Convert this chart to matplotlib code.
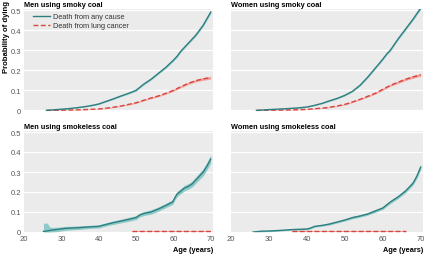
import matplotlib
matplotlib.use("Agg")
import matplotlib.pyplot as plt
import numpy as np

plt.rcParams['font.family'] = ['Liberation Sans', 'DejaVu Sans']

# ---- data ----
titles = ["Men using smoky coal", "Women using smoky coal",
          "Men using smokeless coal", "Women using smokeless coal"]
series_labels = ["Death from any cause", "Death from lung cancer"]
y_ticks = [0, 0.1, 0.2, 0.3, 0.4, 0.5]
y_ticklabels = ["0", "0.1", "0.2", "0.3", "0.4", "0.5"]
x_ticks = [20, 30, 40, 50, 60, 70]

# Men, smoky coal
ms_any_age = [26, 28, 30, 32, 34, 36, 38, 40, 42, 44, 46, 48, 50, 52, 54, 56, 58, 60, 61, 62, 64, 66, 67, 68, 70]
ms_any_val = [0, 0.003, 0.006, 0.009, 0.013, 0.018, 0.024, 0.032, 0.045, 0.058, 0.072, 0.085, 0.1, 0.13, 0.155, 0.185, 0.215, 0.25, 0.27, 0.295, 0.335, 0.375, 0.4, 0.425, 0.49]
ms_any_ci = [0.001, 0.001, 0.001, 0.002, 0.002, 0.002, 0.002, 0.003, 0.003, 0.003, 0.003, 0.003, 0.004, 0.004, 0.004, 0.004, 0.005, 0.005, 0.005, 0.005, 0.005, 0.006, 0.006, 0.006, 0.007]
ms_lc_age = [26, 30, 35, 40, 42, 44, 46, 48, 50, 52, 54, 56, 58, 60, 62, 64, 66, 68, 70]
ms_lc_val = [0, 0.001, 0.003, 0.007, 0.011, 0.016, 0.022, 0.03, 0.038, 0.05, 0.062, 0.072, 0.085, 0.1, 0.118, 0.135, 0.148, 0.157, 0.163]
ms_lc_ci = [0.001, 0.001, 0.001, 0.001, 0.002, 0.002, 0.002, 0.003, 0.003, 0.003, 0.004, 0.004, 0.004, 0.005, 0.005, 0.006, 0.006, 0.007, 0.007]

# Women, smoky coal
ws_any_age = [26.7, 30, 35, 38, 40, 42, 44, 46, 48, 50, 52, 54, 56, 58, 60, 61, 62, 64, 66, 68, 70]
ws_any_val = [0, 0.004, 0.009, 0.013, 0.017, 0.025, 0.035, 0.048, 0.06, 0.075, 0.095, 0.125, 0.165, 0.21, 0.255, 0.28, 0.3, 0.355, 0.405, 0.455, 0.51]
ws_any_ci = [0.001, 0.001, 0.001, 0.002, 0.002, 0.002, 0.002, 0.003, 0.003, 0.003, 0.003, 0.004, 0.004, 0.004, 0.005, 0.005, 0.005, 0.005, 0.006, 0.006, 0.007]
ws_lc_age = [26.7, 35, 40, 45, 48, 50, 52, 54, 56, 58, 60, 62, 64, 66, 68, 70]
ws_lc_val = [0, 0.002, 0.005, 0.013, 0.022, 0.03, 0.042, 0.055, 0.07, 0.085, 0.105, 0.125, 0.14, 0.155, 0.167, 0.177]
ws_lc_ci = [0.001, 0.001, 0.001, 0.002, 0.002, 0.003, 0.003, 0.003, 0.004, 0.004, 0.005, 0.005, 0.006, 0.006, 0.007, 0.007]

# Men, smokeless coal
ml_any_age = [25.2, 26.2, 27, 29, 31, 33, 35, 37, 40, 42, 44, 46, 48, 50, 51, 52, 54, 56, 58, 59.8, 60.5, 61, 62, 63, 64, 65, 66, 67, 68, 69, 70]
ml_any_val = [0.003, 0.005, 0.008, 0.013, 0.018, 0.02, 0.022, 0.025, 0.028, 0.038, 0.047, 0.055, 0.063, 0.072, 0.085, 0.092, 0.1, 0.115, 0.133, 0.15, 0.175, 0.19, 0.205, 0.22, 0.228, 0.24, 0.26, 0.28, 0.3, 0.33, 0.365]
ml_any_ci = [0.04, 0.04, 0.015, 0.011, 0.01, 0.009, 0.009, 0.008, 0.008, 0.008, 0.009, 0.009, 0.01, 0.01, 0.01, 0.01, 0.011, 0.011, 0.011, 0.012, 0.012, 0.013, 0.013, 0.014, 0.014, 0.015, 0.016, 0.017, 0.018, 0.019, 0.02]
ml_lc_age = [49, 55, 60, 65, 70]
ml_lc_val = [0.003, 0.003, 0.003, 0.003, 0.003]
ml_lc_ci = [0.002, 0.002, 0.002, 0.002, 0.002]

# Women, smokeless coal
wl_any_age = [25.8, 28, 30, 33, 36, 40, 41, 42, 44, 46, 48, 50, 52, 54, 56, 58, 60, 62, 64, 66, 68, 69, 70]
wl_any_val = [0, 0.004, 0.005, 0.008, 0.012, 0.015, 0.02, 0.028, 0.033, 0.04, 0.05, 0.06, 0.072, 0.08, 0.09, 0.105, 0.12, 0.15, 0.175, 0.205, 0.245, 0.28, 0.325]
wl_any_ci = [0.002, 0.003, 0.003, 0.003, 0.003, 0.004, 0.004, 0.004, 0.004, 0.005, 0.005, 0.005, 0.006, 0.006, 0.006, 0.007, 0.007, 0.008, 0.008, 0.009, 0.01, 0.011, 0.012]
wl_lc_age = [36, 45, 55, 66]
wl_lc_val = [0.003, 0.003, 0.003, 0.003]
wl_lc_ci = [0.002, 0.002, 0.002, 0.002]

panels = [
    (ms_any_age, ms_any_val, ms_any_ci, ms_lc_age, ms_lc_val, ms_lc_ci),
    (ws_any_age, ws_any_val, ws_any_ci, ws_lc_age, ws_lc_val, ws_lc_ci),
    (ml_any_age, ml_any_val, ml_any_ci, ml_lc_age, ml_lc_val, ml_lc_ci),
    (wl_any_age, wl_any_val, wl_any_ci, wl_lc_age, wl_lc_val, wl_lc_ci),
]

# ---- style ----
teal = "#2f7f80"
teal_band = "#8fcac9"
red = "#d8453c"
red_band = "#f2a3a0"
bg = "#ebebeb"
tick_col = "#555555"

W, H = 424, 255
fig = plt.figure(figsize=(W / 100, H / 100), dpi=100)

def rect(x0, y0, x1, y1):
    return [x0 / W, 1 - y1 / H, (x1 - x0) / W, (y1 - y0) / H]

rects = [rect(24, 10, 213, 112), rect(231, 10, 423, 112),
         rect(24, 132, 213, 233), rect(231, 132, 423, 233)]

axes = []
for i, (r, t, p) in enumerate(zip(rects, titles, panels)):
    ax = fig.add_axes(r)
    axes.append(ax)
    ax.set_facecolor(bg)
    for s in ax.spines.values():
        s.set_visible(False)
    ax.set_xlim(20, 70.6)
    ax.set_ylim(0 if i >= 2 else -0.003, 0.505)
    ax.set_yticks(y_ticks)
    ax.yaxis.grid(True, color="white", linewidth=0.9)
    ax.set_axisbelow(True)
    ax.tick_params(length=0, labelsize=5.5, colors=tick_col, pad=2)
    if i % 2 == 0:
        ax.set_yticklabels(y_ticklabels)
    else:
        ax.set_yticklabels([])
    ax.set_xticks(x_ticks)
    if i < 2:
        ax.set_xticklabels([])
    else:
        ax.set_xticklabels([str(v) for v in x_ticks])
        ax.set_xlabel("Age (years)", fontsize=5.3, fontweight="bold", loc="right", labelpad=3)
    ax.set_title(t, fontsize=5.3, fontweight="bold", loc="left", pad=2.5)

    a_age, a_val, a_ci, l_age, l_val, l_ci = [np.array(v, dtype=float) for v in p]
    ax.fill_between(a_age, np.clip(a_val - a_ci, 0, None), a_val + a_ci,
                    color=teal_band, linewidth=0, zorder=2)
    ax.fill_between(l_age, np.clip(l_val - l_ci, 0, None), l_val + l_ci,
                    color=red_band, linewidth=0, zorder=2, clip_on=False)
    ax.plot(a_age, a_val, color=teal, linewidth=1.0, zorder=4, label=series_labels[0])
    ax.plot(l_age, l_val, color=red, linewidth=1.0, linestyle=(0, (3.5, 1.8)), zorder=3,
            label=series_labels[1], clip_on=False)

axes[0].set_ylabel("Probability of dying", fontsize=5.6, fontweight="bold")
axes[0].yaxis.set_label_coords(-14 / 189, 0.74)
leg = axes[0].legend(loc="upper left", bbox_to_anchor=(0.025, 1.0), frameon=False,
                     fontsize=5.3, handlelength=2.3, handletextpad=0.4,
                     labelspacing=0.25, borderaxespad=0.15)
for txt in leg.get_texts():
    txt.set_color("#333333")

fig.savefig("out.png", dpi=100)
